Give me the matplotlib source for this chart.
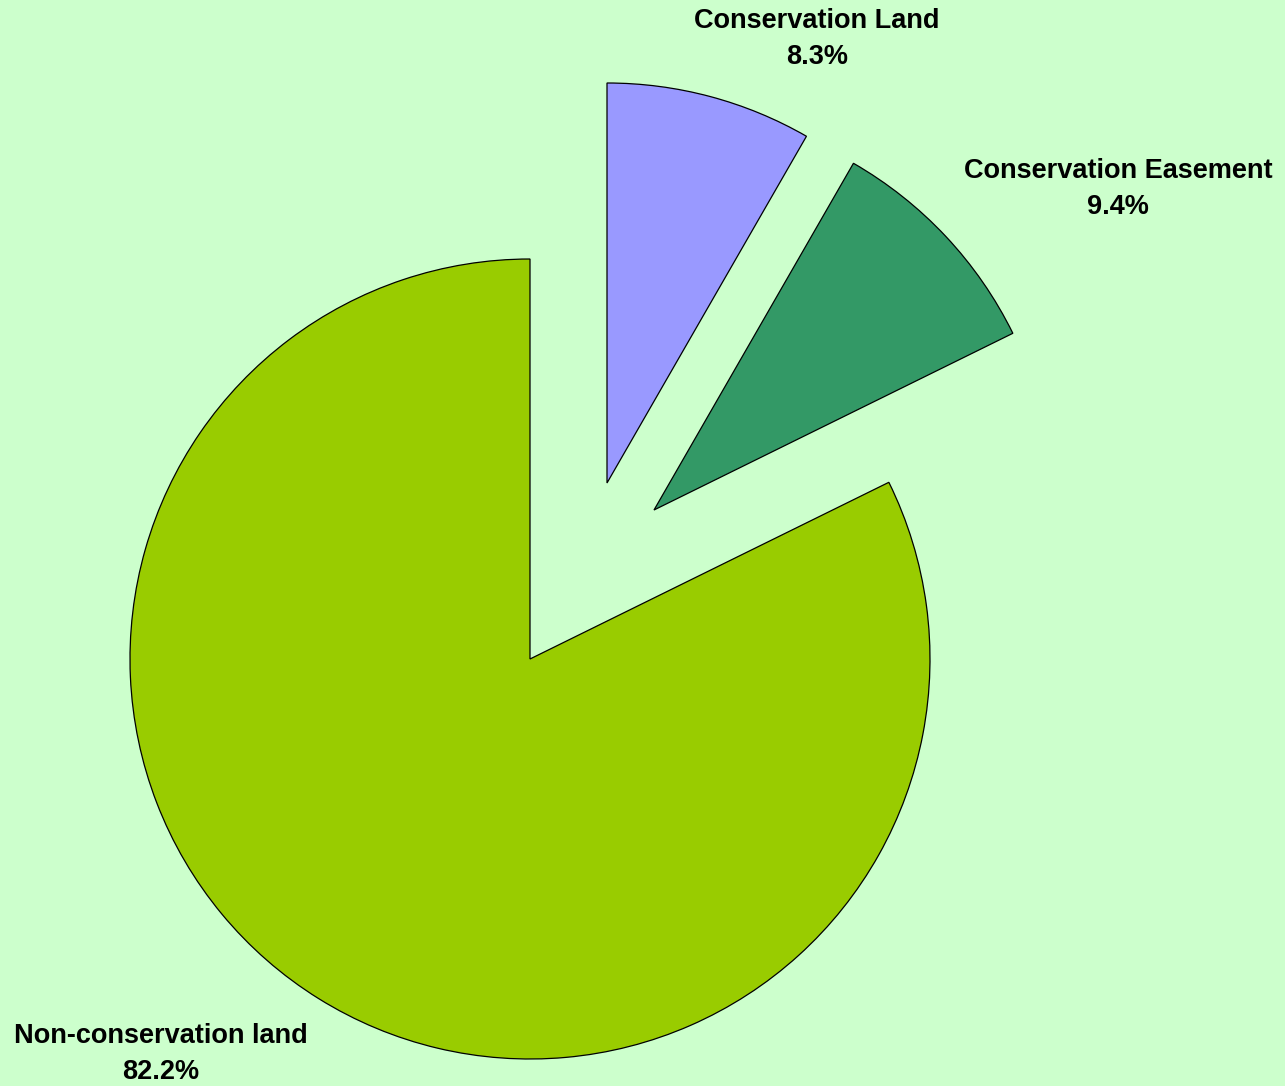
import matplotlib.pyplot as plt

# land protection shares (%), clockwise from 12 o'clock
labels = ['Conservation Land', 'Conservation Easement', 'Non-conservation land']
shares = [8.3, 9.4, 82.2]
colors = ['#9999FF', '#339966', '#99CC00']
# pull-out offsets of the slices (pixels, x right / y up)
pull = [(77, 176), (124, 149), (0, 0)]

W, H = 1285, 1086
cx, cy = 530, H - 659
fig = plt.figure(figsize=(W / 100, H / 100), dpi=100, facecolor='#CCFFCC')
ax = fig.add_axes([0, 0, 1, 1])
ax.set_facecolor('#CCFFCC')

wedges, _ = ax.pie(shares, colors=colors, startangle=90, counterclock=False,
                   radius=400, center=(cx, cy),
                   wedgeprops=dict(edgecolor='black', linewidth=0.9))
for w, (dx, dy) in zip(wedges, pull):
    w.set_center((cx + dx, cy + dy))

ax.set_xlim(0, W)
ax.set_ylim(0, H)
ax.set_aspect('equal')
ax.axis('off')

# label positions (pixel coords, top-left origin)
label_pos = [(817, 39), (1118, 189), (161, 1054)]
for lab, val, (px, py) in zip(labels, shares, label_pos):
    ax.text(px, H - py, f'{lab}\n{val:.1f}%', ha='center', va='center',
            fontsize=19.5, fontweight='bold', family='Liberation Sans',
            linespacing=1.5)

plt.savefig('out.png', dpi=100, facecolor=fig.get_facecolor())
plt.close()
